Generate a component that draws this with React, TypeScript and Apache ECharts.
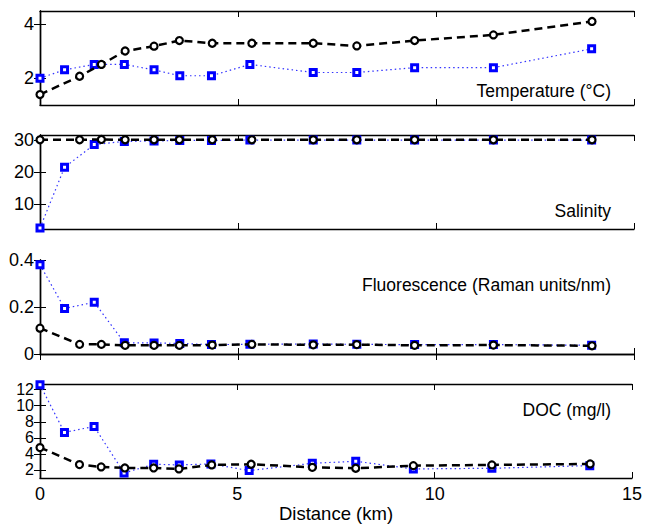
import React, { useEffect, useRef } from "react";
import * as echarts from "echarts";

// Distances (km)
const blackDist = [0, 1.0, 1.55, 2.15, 2.88, 3.52, 4.35, 5.35, 6.9, 8.0, 9.46, 11.45, 13.94];
const blueDist = [0, 0.62, 1.37, 2.13, 2.88, 3.53, 4.33, 5.3, 6.9, 8.0, 9.46, 11.45, 13.93];

// Temperature (°C)
const tempBlack = [1.39, 2.07, 2.51, 3.01, 3.19, 3.4, 3.3, 3.3, 3.3, 3.2, 3.4, 3.61, 4.11];
const tempBlue = [2.0, 2.31, 2.51, 2.51, 2.31, 2.09, 2.09, 2.51, 2.21, 2.21, 2.39, 2.39, 3.09];

// Salinity
const salBlack = [30.1, 30.1, 30.2, 30.1, 30.1, 30.1, 30.1, 30.1, 30.1, 30.1, 30.1, 30.1, 30.1];
const salBlue = [2.5, 21.5, 28.6, 29.6, 29.7, 29.9, 29.9, 30.0, 30.0, 30.0, 30.0, 30.0, 30.0];

// Fluorescence (Raman units/nm)
const fluBlack = [0.11, 0.041, 0.041, 0.037, 0.037, 0.037, 0.038, 0.041, 0.039, 0.04, 0.037, 0.038, 0.035];
const fluBlue = [0.38, 0.194, 0.22, 0.048, 0.047, 0.045, 0.04, 0.041, 0.043, 0.041, 0.04, 0.04, 0.037];

// DOC (mg/l)
const docBlack = [4.79, 2.67, 2.38, 2.25, 2.25, 2.13, 2.63, 2.71, 2.33, 2.21, 2.54, 2.63, 2.75];
const docBlue = [12.6, 6.67, 7.42, 1.63, 2.71, 2.63, 2.75, 1.92, 2.83, 3.08, 2.13, 2.21, 2.54];

const panelLabels = ["Temperature (°C)", "Salinity", "Fluorescence (Raman units/nm)", "DOC (mg/l)"];
const yTicks = [[2, 4], [10, 20, 30], [0, 0.2, 0.4], [2, 4, 6, 8, 10, 12]];
const yRanges = [[1, 4.5], [2.2, 31.6], [0, 0.4], [1, 12.7]];

const FONT = "'Liberation Sans', Arial, Helvetica, sans-serif";

export default function App() {
  const ref = useRef<HTMLDivElement>(null);

  useEffect(() => {
    if (!ref.current) return;
    const chart = echarts.init(ref.current, undefined, { renderer: "svg" });

    const tops = [11, 135, 260, 384];
    const height = 94;
    const labelY = [91, 211, 285, 410];

    const blackSets = [tempBlack, salBlack, fluBlack, docBlack];
    const blueSets = [tempBlue, salBlue, fluBlue, docBlue];

    const grids: any[] = [];
    const xAxes: any[] = [];
    const yAxes: any[] = [];
    const series: any[] = [];
    const graphics: any[] = [];

    const axisLine = { show: true, lineStyle: { color: "#000", width: 1.4 } };
    const tickStyle = { color: "#000", width: 1 };

    for (let i = 0; i < 4; i++) {
      grids.push({ left: 40, right: 11, top: tops[i], height, containLabel: false });
      const isLast = i === 3;
      const dense = i === 3;
      xAxes.push({
        type: "value",
        gridIndex: i,
        min: 0,
        max: 15,
        interval: 5,
        position: "bottom",
        axisLine,
        axisTick: { show: true, inside: true, length: 6, lineStyle: tickStyle },
        axisLabel: {
          show: isLast,
          color: "#000",
          fontSize: 18,
          fontFamily: FONT,
          margin: 7,
        },
        splitLine: { show: false },
        name: isLast ? "Distance (km)" : "",
        nameLocation: "middle",
        nameGap: 26,
        nameTextStyle: { color: "#000", fontSize: 18.5, fontFamily: FONT },
      });
      xAxes.push({
        type: "value",
        gridIndex: i,
        min: 0,
        max: 15,
        interval: 5,
        position: "top",
        axisLine,
        axisTick: { show: true, inside: true, length: 6, lineStyle: tickStyle },
        axisLabel: { show: false },
        splitLine: { show: false },
      });
      yAxes.push({
        type: "value",
        gridIndex: i,
        min: yRanges[i][0],
        max: yRanges[i][1],
        position: "left",
        axisLine,
        axisTick: {
          show: true,
          inside: true,
          length: 6,
          customValues: yTicks[i],
          lineStyle: tickStyle,
        },
        axisLabel: {
          show: true,
          customValues: yTicks[i],
          color: "#000",
          fontSize: dense ? 16 : 18,
          lineHeight: dense ? 15 : 20,
          fontFamily: FONT,
          margin: 6,
          hideOverlap: false,
          showMinLabel: true,
          showMaxLabel: true,
        },
        splitLine: { show: false },
      });
      yAxes.push({
        type: "value",
        gridIndex: i,
        min: yRanges[i][0],
        max: yRanges[i][1],
        position: "right",
        axisLine,
        axisTick: {
          show: true,
          inside: true,
          length: 6,
          customValues: yTicks[i],
          lineStyle: tickStyle,
        },
        axisLabel: { show: false },
        splitLine: { show: false },
      });

      const xi = i * 2;
      const yi = i * 2;

      series.push({
        type: "line",
        xAxisIndex: xi,
        yAxisIndex: yi,
        data: blueDist.map((d, k) => [d, blueSets[i][k]]),
        symbol: "rect",
        symbolSize: 6,
        itemStyle: { color: "#fff", borderColor: "#0000ff", borderWidth: 3 },
        lineStyle: { color: "#3333ff", width: 1.2, type: [1.5, 3] },
        z: 2,
      });
      series.push({
        type: "line",
        xAxisIndex: xi,
        yAxisIndex: yi,
        data: blackDist.map((d, k) => [d, blackSets[i][k]]),
        symbol: "circle",
        symbolSize: 7,
        itemStyle: { color: "#fff", borderColor: "#000", borderWidth: 2.2 },
        lineStyle: { color: "#000", width: 2.5, type: [8, 5] },
        z: 3,
      });

      graphics.push({
        type: "text",
        x: 611,
        y: labelY[i],
        style: {
          text: panelLabels[i],
          fill: "#000",
          fontSize: 17.5,
          fontFamily: FONT,
          align: "right",
          verticalAlign: "middle",
        },
      });
    }

    chart.setOption({
      animation: false,
      backgroundColor: "#fff",
      grid: grids,
      xAxis: xAxes,
      yAxis: yAxes,
      series,
      graphic: graphics,
    });

    return () => chart.dispose();
  }, []);

  return (
    <div
      ref={ref}
      style={{ position: "fixed", left: 0, top: 0, width: 645, height: 524, background: "#fff" }}
    />
  );
}
